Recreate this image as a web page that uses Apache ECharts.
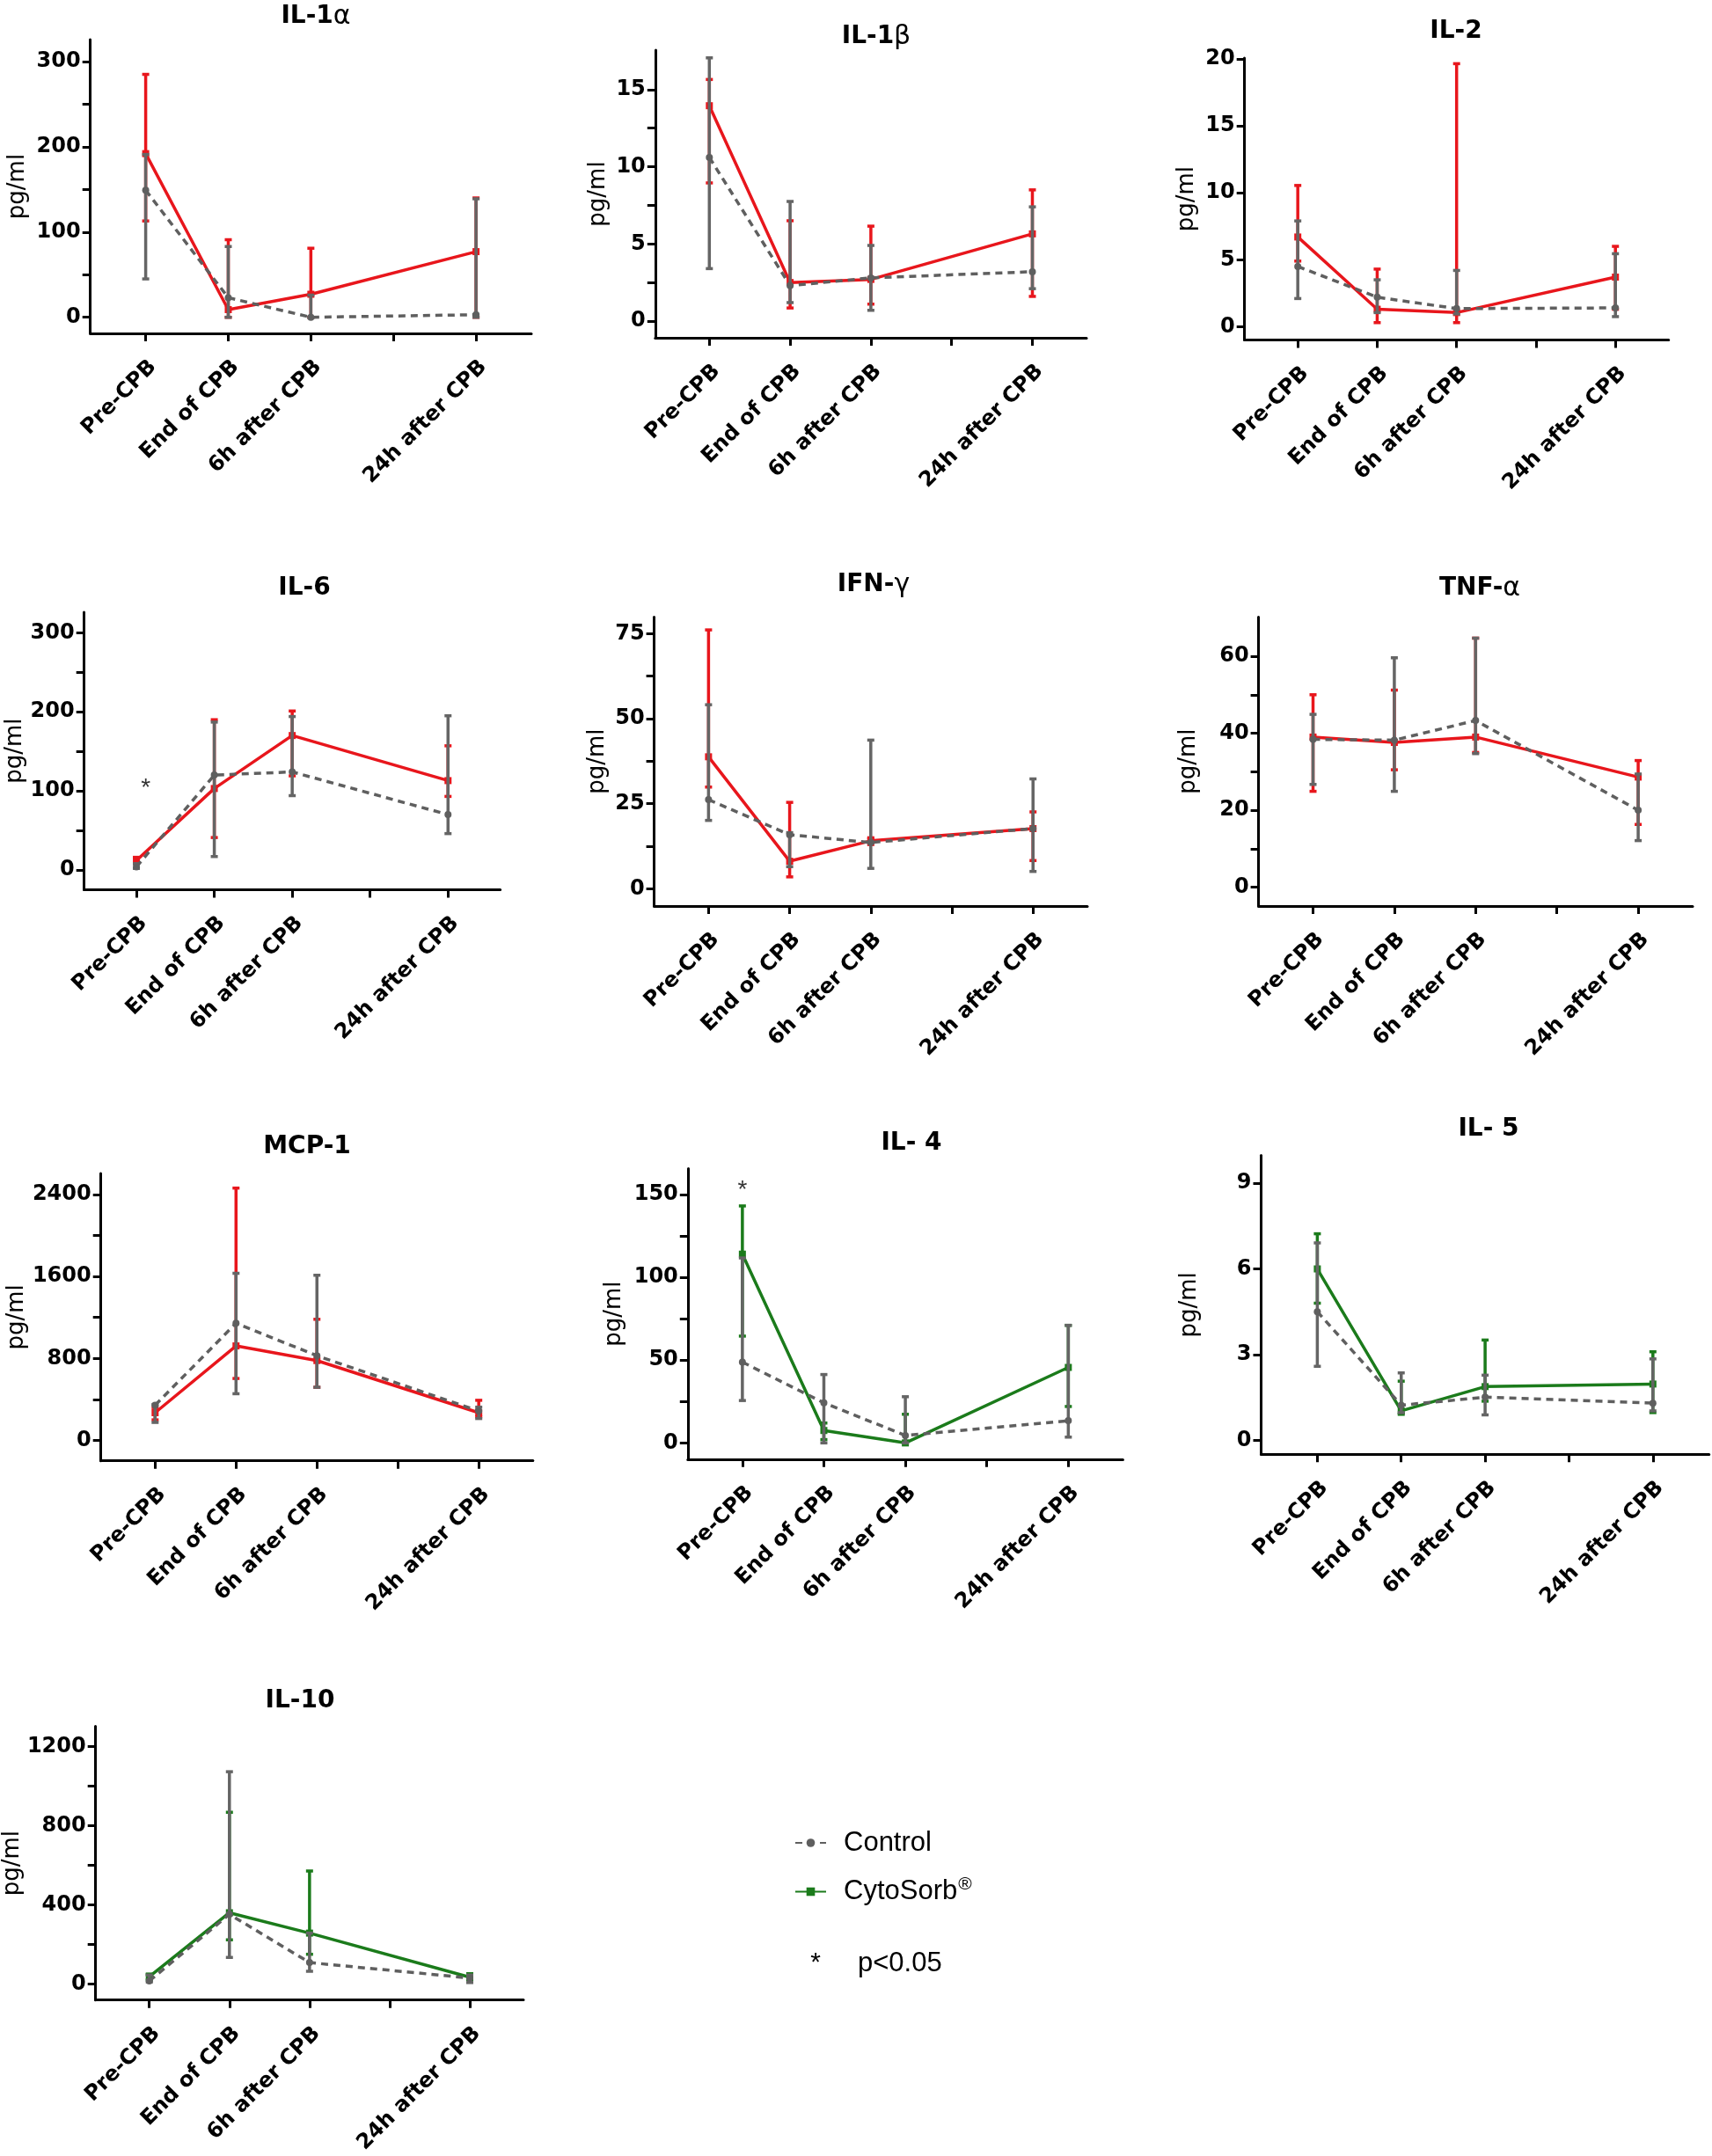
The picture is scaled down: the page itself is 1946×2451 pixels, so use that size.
<!DOCTYPE html>
<html><head><meta charset="utf-8">
<script src="https://cdn.jsdelivr.net/npm/echarts@6/dist/echarts.min.js"></script>
<style>html,body{margin:0;padding:0;background:#fff}#c{width:1946px;height:2451px}</style>
</head><body><div id="c"></div>
<script>
// ---- shared axis data ----
const timeLabels = ['Pre-CPB', 'End of CPB', '6h after CPB', '24h after CPB'];
const timePos = [0, 1, 2, 4];
const timeTicks = [0, 1, 2, 3, 4];

// ---- IL-1α ----
const il1aCtrl = [149, 23, 0, 3];
const il1aCtrlBar = [[45, 191], [0, 83], [0, 26], [0, 139]];
const il1aTrt = [192, 9, 27, 77];
const il1aTrtBar = [[113, 285], [0, 91], [0, 81], [0, 140]];
const il1aYTicks = [0, 50, 100, 150, 200, 250, 300];
const il1aYLabels = [0, 100, 200, 300];

// ---- IL-1β ----
const il1bCtrl = [10.6, 2.3, 2.8, 3.2];
const il1bCtrlBar = [[3.4, 17.05], [1.2, 7.75], [0.7, 4.9], [2.1, 7.4]];
const il1bTrt = [13.95, 2.5, 2.7, 5.65];
const il1bTrtBar = [[8.95, 15.65], [0.85, 6.5], [1.1, 6.15], [1.6, 8.5]];
const il1bYTicks = [0, 2.5, 5, 7.5, 10, 12.5, 15];
const il1bYLabels = [0, 5, 10, 15];

// ---- IL-2 ----
const il2Ctrl = [4.5, 2.2, 1.35, 1.4];
const il2CtrlBar = [[2.1, 7.9], [1.05, 3.5], [0.95, 4.2], [0.75, 5.45]];
const il2Trt = [6.7, 1.3, 1.05, 3.7];
const il2TrtBar = [[4.9, 10.55], [0.3, 4.3], [0.3, 19.65], [1.3, 6.0]];
const il2YTicks = [0, 5, 10, 15, 20];
const il2YLabels = [0, 5, 10, 15, 20];

// ---- IL-6 ----
const il6Ctrl = [4, 120, 124, 70];
const il6CtrlBar = [[2, 8], [17, 187], [94, 194], [46, 195]];
const il6Trt = [12, 103, 170, 113];
const il6TrtBar = [[8, 16], [41, 190], [119, 201], [93, 157]];
const il6YTicks = [0, 50, 100, 150, 200, 250, 300];
const il6YLabels = [0, 100, 200, 300];
const il6Star = [[0.12, 111]];

// ---- IFN-γ ----
const ifngCtrl = [26.2, 15.9, 13.6, 17.7];
const ifngCtrlBar = [[20.1, 54.1], [6.5, 16.5], [6.0, 43.7], [5.1, 32.3]];
const ifngTrt = [38.8, 8.1, 14.1, 17.7];
const ifngTrtBar = [[29.9, 76.1], [3.5, 25.4], [13, 15], [8.3, 22.6]];
const ifngYTicks = [0, 12.5, 25, 37.5, 50, 62.5, 75];
const ifngYLabels = [0, 25, 50, 75];

// ---- TNF-α ----
const tnfaCtrl = [38.4, 38.2, 43.3, 20.0];
const tnfaCtrlBar = [[26.7, 44.9], [24.9, 59.6], [34.7, 64.7], [12.1, 29.4]];
const tnfaTrt = [39.0, 37.6, 39.0, 28.6];
const tnfaTrtBar = [[24.9, 50.0], [30.5, 51.2], [35, 64.7], [16.3, 32.9]];
const tnfaYTicks = [0, 10, 20, 30, 40, 50, 60];
const tnfaYLabels = [0, 20, 40, 60];

// ---- MCP-1 ----
const mcp1Ctrl = [343, 1144, 826, 286];
const mcp1CtrlBar = [[175, 350], [455, 1631], [518, 1612], [213, 324]];
const mcp1Trt = [270, 922, 779, 270];
const mcp1TrtBar = [[200, 320], [604, 2463], [518, 1182], [230, 391]];
const mcp1YTicks = [0, 400, 800, 1200, 1600, 2000, 2400];
const mcp1YLabels = [0, 800, 1600, 2400];

// ---- IL-4 ----
const il4Ctrl = [48.8, 24.2, 4.5, 13.4];
const il4CtrlBar = [[25.6, 111.7], [0, 41.3], [0, 27.9], [3.5, 71]];
const il4Trt = [114, 7.5, 0, 45.6];
const il4TrtBar = [[64.5, 143.1], [2, 12], [0, 17.3], [22, 71]];
const il4YTicks = [0, 25, 50, 75, 100, 125, 150];
const il4YLabels = [0, 50, 100, 150];
const il4Star = [[0, 156]];

// ---- IL-5 ----
const il5Ctrl = [4.5, 1.23, 1.51, 1.30];
const il5CtrlBar = [[2.59, 6.91], [0.97, 2.36], [0.89, 2.28], [1.03, 2.85]];
const il5Trt = [6.0, 1.03, 1.88, 1.97];
const il5TrtBar = [[4.8, 7.23], [0.91, 2.07], [1.37, 3.51], [0.97, 3.10]];
const il5YTicks = [0, 3, 6, 9];
const il5YLabels = [0, 3, 6, 9];

// ---- IL-10 ----
const il10Ctrl = [15, 352, 108, 30];
const il10CtrlBar = [[10, 45], [134, 1073], [64, 257], [7, 45]];
const il10Trt = [37, 360, 257, 34];
const il10TrtBar = [[20, 50], [223, 868], [150, 571], [20, 52]];
const il10YTicks = [0, 200, 400, 600, 800, 1000, 1200];
const il10YLabels = [0, 400, 800, 1200];

// ---- styles ----
const RED = '#e8161c', GREEN = '#1b7b1b', GREY = '#5f5f5f', BARGREY = '#656565';
const BOLD = 'DejaVu Sans';

const panels = [
  {title: 'IL-1{g|α}', ctrl: il1aCtrl, ctrlBar: il1aCtrlBar, trt: il1aTrt, trtBar: il1aTrtBar, yt: il1aYTicks, yl: il1aYLabels,
   color: RED, box: [102.7, 45, 604, 379], yr: [-18.9, 325.8], tp: [359, 19], gap: 69},
  {title: 'IL-1{g|β}', ctrl: il1bCtrl, ctrlBar: il1bCtrlBar, trt: il1bTrt, trtBar: il1bTrtBar, yt: il1bYTicks, yl: il1bYLabels,
   color: RED, box: [744.8, 57, 1235, 384], yr: [-1.08, 17.55], tp: [996, 42], gap: 52},
  {title: 'IL-2', ctrl: il2Ctrl, ctrlBar: il2CtrlBar, trt: il2Trt, trtBar: il2TrtBar, yt: il2YTicks, yl: il2YLabels,
   color: RED, box: [1414.7, 66, 1896.7, 386.4], yr: [-0.99, 20.07], tp: [1655, 35.5], gap: 52},
  {title: 'IL-6', ctrl: il6Ctrl, ctrlBar: il6CtrlBar, trt: il6Trt, trtBar: il6TrtBar, yt: il6YTicks, yl: il6YLabels,
   color: RED, box: [95.7, 696, 568.6, 1011.4], yr: [-24.9, 325.9], tp: [346, 668.5], gap: 64, star: il6Star},
  {title: 'IFN-{g|γ}', ctrl: ifngCtrl, ctrlBar: ifngCtrlBar, trt: ifngTrt, trtBar: ifngTrtBar, yt: ifngYTicks, yl: ifngYLabels,
   color: RED, box: [743.6, 701.4, 1236, 1030], yr: [-5.07, 79.9], tp: [993, 665], gap: 51},
  {title: 'TNF-{g|α}', ctrl: tnfaCtrl, ctrlBar: tnfaCtrlBar, trt: tnfaTrt, trtBar: tnfaTrtBar, yt: tnfaYTicks, yl: tnfaYLabels,
   color: RED, box: [1430.6, 701.4, 1924, 1030], yr: [-4.9, 70.2], tp: [1682, 669], gap: 66},
  {title: 'MCP-1', ctrl: mcp1Ctrl, ctrlBar: mcp1CtrlBar, trt: mcp1Trt, trtBar: mcp1TrtBar, yt: mcp1YTicks, yl: mcp1YLabels,
   color: RED, box: [114.7, 1334, 605.8, 1660.7], yr: [-200, 2606], tp: [349, 1304], gap: 82},
  {title: 'IL- 4', ctrl: il4Ctrl, ctrlBar: il4CtrlBar, trt: il4Trt, trtBar: il4TrtBar, yt: il4YTicks, yl: il4YLabels,
   color: GREEN, box: [781.8, 1328.4, 1276.4, 1658.8], yr: [-9.8, 165.7], tp: [1036, 1299.5], gap: 71, star: il4Star},
  {title: 'IL- 5', ctrl: il5Ctrl, ctrlBar: il5CtrlBar, trt: il5Trt, trtBar: il5TrtBar, yt: il5YTicks, yl: il5YLabels,
   color: GREEN, box: [1433.5, 1313.6, 1942.7, 1653.3], yr: [-0.49, 9.97], tp: [1692, 1283.5], gap: 68},
  {title: 'IL-10', ctrl: il10Ctrl, ctrlBar: il10CtrlBar, trt: il10Trt, trtBar: il10TrtBar, yt: il10YTicks, yl: il10YLabels,
   color: GREEN, box: [104.8, 1962.5, 595, 2290], yr: [-81.6, 1302.7], tp: [341, 1934], gap: 72}
];

function errRenderer(color) {
  return function (params, api) {
    const x = api.value(0);
    const a = api.coord([x, api.value(1)]);
    const b = api.coord([x, api.value(2)]);
    const w = 4;
    const st = {stroke: color, lineWidth: 3.5};
    return {type: 'group', children: [
      {type: 'line', shape: {x1: a[0], y1: a[1], x2: b[0], y2: b[1]}, style: st},
      {type: 'line', shape: {x1: a[0] - w, y1: a[1], x2: a[0] + w, y2: a[1]}, style: st},
      {type: 'line', shape: {x1: b[0] - w, y1: b[1], x2: b[0] + w, y2: b[1]}, style: st}
    ]};
  };
}

const option = {
  animation: false,
  backgroundColor: '#ffffff',
  textStyle: {fontFamily: BOLD},
  title: [], grid: [], xAxis: [], yAxis: [], series: [],
  legend: {
    data: ['Control', 'CytoSorb®'],
    orient: 'vertical', left: 903, top: 2077, padding: 0,
    itemWidth: 35, itemHeight: 12, itemGap: 19, selectedMode: false,
    formatter: function (n) { return n === 'CytoSorb®' ? 'CytoSorb{s|®}' : n; },
    textStyle: {fontFamily: 'Liberation Sans', fontSize: 31, color: '#000', lineHeight: 36, padding: [0, 0, 0, 15],
      rich: {s: {fontFamily: 'Liberation Sans', fontSize: 21, color: '#000', padding: [0, 0, 16, 1]}}}
  },
  graphic: [
    {type: 'text', x: 927, y: 2232, style: {text: '*', fontFamily: 'Liberation Sans', fontSize: 30, fill: '#000', align: 'center', verticalAlign: 'middle'}},
    {type: 'text', x: 975, y: 2232, style: {text: 'p<0.05', fontFamily: 'Liberation Sans', fontSize: 31, fill: '#000', align: 'left', verticalAlign: 'middle'}}
  ]
};

panels.forEach(function (p, i) {
  const [L, T, R, B] = p.box;
  option.title.push({
    text: p.title, left: p.tp[0], top: p.tp[1], textAlign: 'center', textVerticalAlign: 'middle', padding: 0,
    textStyle: {fontFamily: BOLD, fontWeight: 'bold', fontSize: 28, color: '#000',
      rich: {g: {fontFamily: 'DejaVu Sans', fontWeight: 'normal', fontSize: 30, color: '#000'}}}
  });
  option.grid.push({left: L, top: T, width: R - L, height: B - T});
  option.xAxis.push({
    gridIndex: i, type: 'value', min: -0.67, max: 4.67,
    axisLine: {show: true, onZero: false, lineStyle: {color: '#000', width: 3}},
    axisTick: {show: true, customValues: timeTicks, length: 9, lineStyle: {color: '#000', width: 3}},
    axisLabel: {customValues: timePos, rotate: 45, margin: 26, align: 'right', verticalAlign: 'top',
      fontFamily: BOLD, fontWeight: 'bold', fontSize: 24, color: '#000',
      formatter: function (v) { const k = timePos.indexOf(v); return k >= 0 ? timeLabels[k] : ''; }},
    splitLine: {show: false}
  });
  option.yAxis.push({
    gridIndex: i, type: 'value', min: p.yr[0], max: p.yr[1],
    name: 'pg/ml', nameLocation: 'middle', nameGap: p.gap,
    nameTextStyle: {fontFamily: 'DejaVu Sans', fontSize: 26, color: '#000'},
    axisLine: {show: true, onZero: false, lineStyle: {color: '#000', width: 3}},
    axisTick: {show: true, customValues: p.yt, length: 9, lineStyle: {color: '#000', width: 3}},
    axisLabel: {customValues: p.yl, margin: 11, fontFamily: BOLD, fontWeight: 'bold', fontSize: 24, color: '#000',
      formatter: function (v) { return String(v); }},
    splitLine: {show: false}
  });
  const trtName = p.color === GREEN ? 'CytoSorb®' : 'CytoSorb® (pro-inflammatory panel)';
  option.series.push({
    type: 'custom', name: trtName + ' SD', xAxisIndex: i, yAxisIndex: i, z: 2, silent: true,
    data: p.trtBar.map(function (b, k) { return [timePos[k], b[0], b[1]]; }),
    encode: {x: 0, y: [1, 2]}, renderItem: errRenderer(p.color)
  });
  option.series.push({
    type: 'line', name: trtName, xAxisIndex: i, yAxisIndex: i, z: 3,
    data: p.trt.map(function (m, k) { return [timePos[k], m]; }),
    symbol: 'rect', symbolSize: 8, showSymbol: true,
    lineStyle: {color: p.color, width: 3.5}, itemStyle: {color: p.color}, emphasis: {disabled: true}
  });
  option.series.push({
    type: 'custom', name: 'Control SD', xAxisIndex: i, yAxisIndex: i, z: 4, silent: true,
    data: p.ctrlBar.map(function (b, k) { return [timePos[k], b[0], b[1]]; }),
    encode: {x: 0, y: [1, 2]}, renderItem: errRenderer(BARGREY)
  });
  option.series.push({
    type: 'line', name: 'Control', xAxisIndex: i, yAxisIndex: i, z: 5,
    data: p.ctrl.map(function (m, k) { return [timePos[k], m]; }),
    symbol: 'circle', symbolSize: 8, showSymbol: true,
    lineStyle: {color: GREY, width: 3.5, type: [8, 6]}, itemStyle: {color: GREY}, emphasis: {disabled: true}
  });
  if (p.star) {
    option.series.push({
      type: 'scatter', name: 'p<0.05', xAxisIndex: i, yAxisIndex: i, z: 6, silent: true,
      data: p.star, symbolSize: 1, itemStyle: {color: 'rgba(0,0,0,0)'},
      label: {show: true, position: 'inside', formatter: '*', offset: [0, 7],
        fontFamily: 'Liberation Sans', fontSize: 28, color: '#000'}
    });
  }
});

const chart = echarts.init(document.getElementById('c'), null, {renderer: 'canvas', width: 1946, height: 2451});
chart.setOption(option);
</script>
</body></html>
